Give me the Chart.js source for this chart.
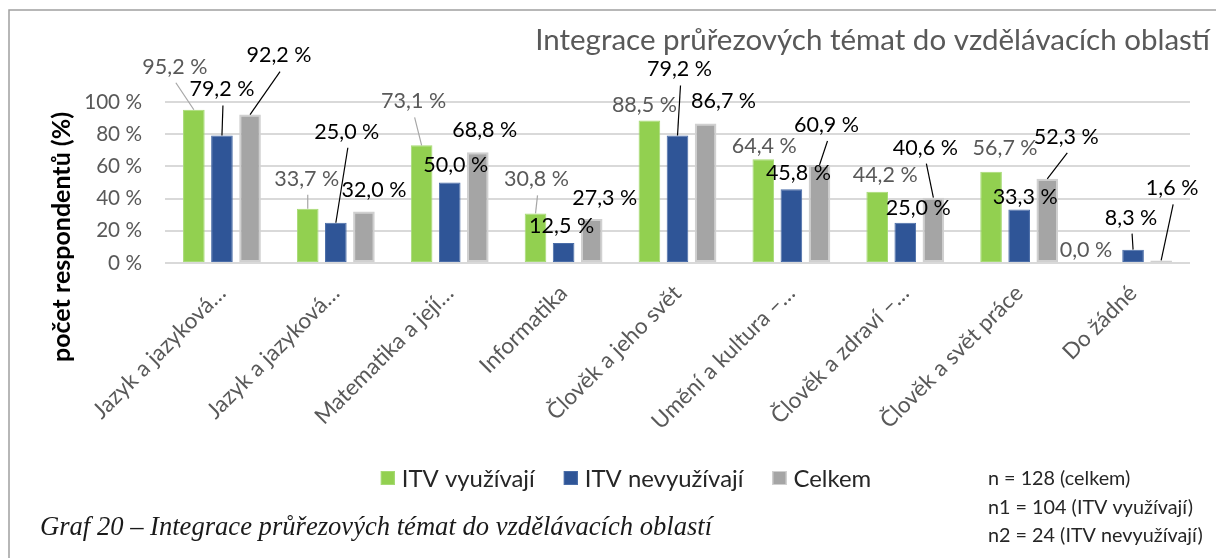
<!DOCTYPE html>
<html>
<head>
<meta charset="utf-8">
<script src="https://cdn.jsdelivr.net/npm/chart.js@4.4.1/dist/chart.umd.min.js"></script>
<style>
html,body{margin:0;padding:0;background:#fff;}
#wrap{position:relative;width:1216px;height:558px;}
</style>
</head>
<body>
<div id="wrap"><canvas id="c" width="1216" height="558"></canvas></div>
<script>
// ---- data ----
const categories = ["Jazyk a jazyková…", "Jazyk a jazyková…", "Matematika a její…", "Informatika", "Člověk a jeho svět", "Umění a kultura –…", "Člověk a zdraví –…", "Člověk a svět práce", "Do žádné"];
const seriesNames = ["ITV využívají", "ITV nevyužívají", "Celkem"];
const itvUse   = [95.2, 33.7, 73.1, 30.8, 88.5, 64.4, 44.2, 56.7, 0.0];
const itvNoUse = [79.2, 25.0, 50.0, 12.5, 79.2, 45.8, 25.0, 33.3, 8.3];
const total    = [92.2, 32.0, 68.8, 27.3, 86.7, 60.9, 40.6, 52.3, 1.6];
const yTicks = [0, 20, 40, 60, 80, 100];
const chartTitle = "Integrace průřezových témat do vzdělávacích oblastí";
const yTitle = "počet respondentů (%)";
const caption = "Graf 20 – Integrace průřezových témat do vzdělávacích oblastí";
const sampleNotes = ["n = 128 (celkem)", "n1 = 104 (ITV využívají)", "n2 = 24 (ITV nevyužívají)"];

// ---- label placement (style): [dx, dy, leader] relative to bar top centre ----
const labelPlacement = [
  [[-19,-43,1],[-1,-30,1],[-8,-44,1],[1,-34,1],[-5,-15,0],[1,-13,0],[8,-17,0],[14,-24,0],[-19,-13,0]],
  [[0,-46,1],[11,-91,1],[6,-17,0],[-2,-17,0],[2,-66,1],[7,-16,0],[13,-15,0],[6,-12,0],[-2,-32,1]],
  [[29,-59,1],[10,-21,0],[7,-22,0],[13,-21,0],[18,-22,0],[7,-40,1],[-8,-50,1],[19,-42,1],[11,-72,1]]
];
const colors = ['#92D050', '#2F5597', '#A5A5A5'];
const borders = ['#A6DA74', '#4A6DA8', '#D0D0D0'];
const labelColors = ['#595959', '#000000', '#000000'];
const leaderColors = ['#A6A6A6', '#000000', '#000000'];

const FONT = 'Lato';
const mctx = document.createElement('canvas').getContext('2d');
function fitSize(text, family, weight, style, target) {
  mctx.font = style + ' ' + weight + ' 100px ' + family;
  const w = mctx.measureText(text).width;
  return Math.round(1000 * target / w) / 10;
}
const sLabel = fitSize("79,2 %", FONT, 'normal', 'normal', 65);
const sYTick = fitSize("100 %", FONT, 'normal', 'normal', 58);
const sXTick = fitSize("Informatika", FONT, 'normal', 'normal', 113);
const sTitle = fitSize(chartTitle, FONT, 'normal', 'normal', 675);
const sYTitle = fitSize(yTitle, FONT, 'bold', 'normal', 250);
const sLegend = fitSize("ITV nevyužívají", FONT, 'normal', 'normal', 159);
const sNotes = fitSize(sampleNotes[1], FONT, 'normal', 'normal', 205);
const sCaption = fitSize(caption, '"Liberation Serif"', 'normal', 'italic', 672);

const fmt = v => v.toFixed(1).replace('.', ',') + ' %';

const decor = {
  id: 'decor',
  beforeDraw(chart) {
    const c = chart.ctx;
    c.save();
    c.fillStyle = '#fff';
    c.fillRect(0, 0, chart.width, chart.height);
    c.strokeStyle = '#A0A0A0';
    c.lineWidth = 1.5;
    c.beginPath();
    c.moveTo(9, chart.height + 5);
    c.lineTo(9, 10);
    c.lineTo(chart.width + 5, 10);
    c.stroke();
    c.restore();
  },
  afterDatasetsDraw(chart) {
    const c = chart.ctx;
    c.save();
    c.font = sLabel + 'px ' + FONT;
    c.textAlign = 'center';
    c.textBaseline = 'middle';
    chart.data.datasets.forEach((ds, i) => {
      const meta = chart.getDatasetMeta(i);
      meta.data.forEach((el, j) => {
        const [dx, dy, leader] = labelPlacement[i][j];
        const lx = el.x + dx, ly = el.y + dy;
        if (leader) {
          c.strokeStyle = leaderColors[i];
          c.lineWidth = 1.2;
          c.beginPath();
          c.moveTo(lx + 1, ly + 16);
          c.lineTo(el.x, el.y);
          c.stroke();
        }
        c.fillStyle = labelColors[i];
        c.fillText(fmt(ds.data[j]), lx, ly);
      });
    });
    c.restore();
  },
  afterDraw(chart) {
    const c = chart.ctx;
    c.save();
    // title
    c.font = sTitle + 'px ' + FONT;
    c.fillStyle = '#595959';
    c.textAlign = 'right';
    c.textBaseline = 'alphabetic';
    c.fillText(chartTitle, 1210, 50);
    // y title
    c.save();
    c.translate(62, 237);
    c.rotate(-Math.PI / 2);
    c.font = 'bold ' + sYTitle + 'px ' + FONT;
    c.fillStyle = '#000';
    c.textAlign = 'center';
    c.textBaseline = 'middle';
    c.fillText(yTitle, 0, 0);
    c.restore();
    // legend
    c.font = sLegend + 'px ' + FONT;
    c.textBaseline = 'middle';
    c.textAlign = 'left';
    const box = 14, gapBT = 7, gapItem = 29;
    const widths = seriesNames.map(t => c.measureText(t).width);
    const totalW = widths.reduce((a, w) => a + box + gapBT + w, 0) + gapItem * (seriesNames.length - 1);
    let x = 626 - totalW / 2;
    const ly = 478;
    seriesNames.forEach((t, i) => {
      c.fillStyle = colors[i];
      c.fillRect(x, ly - box / 2, box, box);
      c.strokeStyle = borders[i];
      c.lineWidth = 1;
      c.strokeRect(x + 0.5, ly - box / 2 + 0.5, box - 1, box - 1);
      c.fillStyle = '#262626';
      c.fillText(t, x + box + gapBT, ly + 1);
      x += box + gapBT + widths[i] + gapItem;
    });
    // notes
    c.font = sNotes + 'px ' + FONT;
    c.fillStyle = '#262626';
    sampleNotes.forEach((t, i) => c.fillText(t, 988, 479 + i * 28.5));
    // caption
    c.font = 'italic ' + sCaption + 'px "Liberation Serif"';
    c.fillStyle = '#1a1a1a';
    c.fillText(caption, 40, 528);
    c.restore();
  }
};

const mk = (i, data) => ({
  label: seriesNames[i],
  data: data,
  backgroundColor: colors[i],
  borderColor: borders[i],
  borderWidth: i === 2 ? 2 : 1,
  borderSkipped: false,
  categoryPercentage: 0.74,
  barPercentage: 0.77
});

new Chart(document.getElementById('c'), {
  type: 'bar',
  data: {
    labels: categories,
    datasets: [mk(0, itvUse), mk(1, itvNoUse), mk(2, total)]
  },
  options: {
    responsive: false,
    animation: false,
    layout: { padding: { left: 0, top: 102, right: 26, bottom: 0 } },
    plugins: { legend: { display: false }, title: { display: false }, tooltip: { enabled: false } },
    scales: {
      x: {
        grid: { display: false },
        border: { display: false },
        ticks: {
          autoSkip: false, maxRotation: 45, minRotation: 45,
          color: '#595959', padding: 9,
          font: { family: FONT, size: sXTick }
        },
        afterFit(s) { s.height = 295; }
      },
      y: {
        min: 0, max: 100,
        afterBuildTicks(s) { s.ticks = yTicks.map(v => ({ value: v })); },
        grid: { color: '#D9D9D9', lineWidth: 2, drawTicks: false },
        border: { display: false },
        ticks: {
          color: '#595959', padding: 23,
          font: { family: FONT, size: sYTick },
          callback: v => v + ' %'
        },
        afterFit(s) { s.width = 165; }
      }
    }
  },
  plugins: [decor]
});
</script>
</body>
</html>
